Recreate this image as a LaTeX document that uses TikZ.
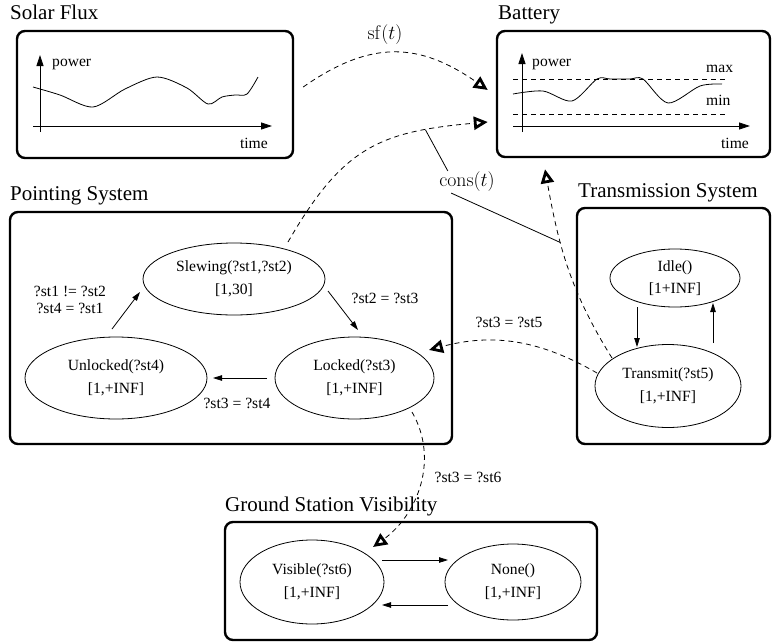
\documentclass[tikz,border=0pt]{standalone}
\usepackage{fix-cm}
\usepackage[no-math]{fontspec}
\setmainfont{Liberation Serif}
\usetikzlibrary{shapes.geometric,arrows.meta,calc}

\tikzset{
  panel/.style={draw, line width=2.4pt, rounded corners=8pt, inner sep=0pt},
  title/.style={anchor=base west, inner sep=0pt, font=\fontsize{21}{25}\selectfont},
  state/.style={draw, ellipse, line width=0.8pt, inner sep=0pt, align=center,
    font=\fontsize{15.6}{22.5}\selectfont},
  lbl/.style={inner sep=0pt, align=center, font=\fontsize{15.6}{17}\selectfont},
  mlbl/.style={inner sep=1pt, font=\fontsize{19.8}{22}\selectfont},
  axis/.style={line width=0.8pt, -{Triangle[length=11pt,width=7pt]}},
  trans/.style={line width=0.8pt, -{Triangle[length=9pt,width=5.5pt]}},
  limit/.style={line width=0.8pt, dash pattern=on 5pt off 4pt},
  flow/.style={line width=0.8pt, dash pattern=on 5pt off 4pt,
    -{Triangle[open,length=14pt,width=13pt,line width=2.8pt]}},
}

\begin{document}
\begin{tikzpicture}[x=1pt, y=1pt]
  \useasboundingbox (0,0) rectangle (772,-643);

  \node[panel, minimum width=276pt, minimum height=127pt] (solar) at (155,-94.5) {};
  \node[panel, minimum width=273pt, minimum height=126pt] (battery) at (633.5,-94) {};
  \node[panel, minimum width=442pt, minimum height=232pt] (pointing) at (231,-328) {};
  \node[panel, minimum width=193pt, minimum height=236pt] (transsys) at (673.5,-326) {};
  \node[panel, minimum width=372pt, minimum height=118pt] (ground) at (411,-581) {};

  \node[title] (solart) at (10,-19) {Solar Flux};
  \node[title] (batteryt) at (498,-19) {Battery};
  \node[title] (pointingt) at (10,-200) {Pointing System};
  \node[title] (transsyst) at (578,-197) {Transmission System};
  \node[title] (groundt) at (225,-511) {Ground Station Visibility};

  % solar flux curve
  \draw[axis] (40,-132) -- (40,-55);
  \draw[axis] (33,-126) -- (272,-126);
  \node[lbl, anchor=base west] (sfpower) at (52,-66) {power};
  \node[lbl, anchor=base east] (sftime) at (268,-148) {time};
  \draw[line width=0.8pt] plot[smooth] coordinates {(33,-87) (60,-95) (93,-107) (125,-89)
    (157,-77) (187,-88) (208,-104) (222,-97) (235,-95) (247,-94) (258,-77)};

  % battery level
  \draw[axis] (522,-132) -- (522,-53);
  \draw[axis] (513,-126) -- (750,-126);
  \draw[limit] (513,-79) -- (728,-79);
  \draw[limit] (513,-114) -- (728,-114);
  \node[lbl, anchor=base west] (bpower) at (532,-66) {power};
  \node[lbl, anchor=base west] (bmax) at (706,-72) {max};
  \node[lbl, anchor=base west] (bmin) at (706,-105) {min};
  \node[lbl, anchor=base east] (btime) at (749,-148) {time};
  \draw[line width=0.8pt] plot[smooth] coordinates {(513,-94) (543,-91) (572,-101) (597,-79)
    (610,-79) (630,-79) (643,-79) (668,-103) (700,-86) (722,-84)};

  \node[state, minimum width=182pt, minimum height=72pt] (slew) at (234,-279) {Slewing(?st1,?st2)\\{}[1,30]};
  \node[state, minimum width=182pt, minimum height=82pt] (unlock) at (116,-378) {Unlocked(?st4)\\{}[1,+INF]};
  \node[state, minimum width=159pt, minimum height=82pt] (lock) at (354.5,-378) {Locked(?st3)\\{}[1,+INF]};
  \node[state, minimum width=130pt, minimum height=58pt] (idle) at (675,-278) {Idle()\\{}[1+INF]};
  \node[state, minimum width=146pt, minimum height=83pt] (transmit) at (668,-386) {Transmit(?st5)\\{}[1,+INF]};
  \node[state, minimum width=144pt, minimum height=84pt] (visible) at (312,-582) {Visible(?st6)\\{}[1,+INF]};
  \node[state, minimum width=136pt, minimum height=76pt] (none) at (513,-582) {None()\\{}[1,+INF]};

  \node[lbl] (lunlock) at (70,-299.5) {?st1 != ?st2\\?st4 = ?st1};
  \node[lbl] (lslew) at (385,-298) {?st2 = ?st3};
  \node[lbl] (llock) at (237,-403) {?st3 = ?st4};
  \node[lbl] (ltransmit) at (509,-322) {?st3 = ?st5};
  \node[lbl] (lvisible) at (468,-477) {?st3 = ?st6};
  \node[mlbl] (sflbl) at (385,-35) {$\mathrm{sf}(t)$};
  \node[mlbl] (conslbl) at (467,-182) {$\mathrm{cons}(t)$};

  \draw[trans] ($(unlock.center)+(-4,49)$) -- ($(slew.center)+(-94,-13)$);
  \draw[trans] ($(slew.center)+(94,-12)$) -- ($(lock.center)+(3.5,48)$);
  \draw[trans] ($(lock.center)+(-87.5,0)$) -- ($(unlock.center)+(97,0)$);
  \draw[trans] ($(idle.center)+(-38,-29)$) -- ($(transmit.center)+(-31,39)$);
  \draw[trans] ($(transmit.center)+(45,43)$) -- ($(idle.center)+(38,-25)$);
  \draw[trans] ($(visible.center)+(70,22)$) -- ($(none.center)+(-65,22)$);
  \draw[trans] ($(none.center)+(-65,-23)$) -- ($(visible.center)+(70,-23)$);

  \draw[flow] ($(solar.east)+(9,7.5)$) to[out=35,in=145,looseness=1.15] ($(battery.west)+(-8,4)$);
  \draw[flow] ($(slew.center)+(54,37)$) to[out=60,in=185,looseness=1.2] coordinate[pos=0.78] (consa)
    ($(battery.west)+(-8,-28)$);
  \draw[flow] ($(transmit.center)+(-56,28)$) to[out=122,in=-80] coordinate[pos=0.64] (consb)
    ($(battery.south)+(-88.5,-11)$);
  \draw[flow] ($(transmit.center)+(-71,13)$) to[out=150,in=15] ($(lock.center)+(74.5,28)$);
  \draw[flow] ($(lock.center)+(57.5,-34)$) to[out=-60,in=36] ($(visible.center)+(61,35)$);

  \draw[line width=0.8pt] (conslbl.150) -- (consa);
  \draw[line width=0.8pt] (conslbl.215) -- (consb);
\end{tikzpicture}
\end{document}
